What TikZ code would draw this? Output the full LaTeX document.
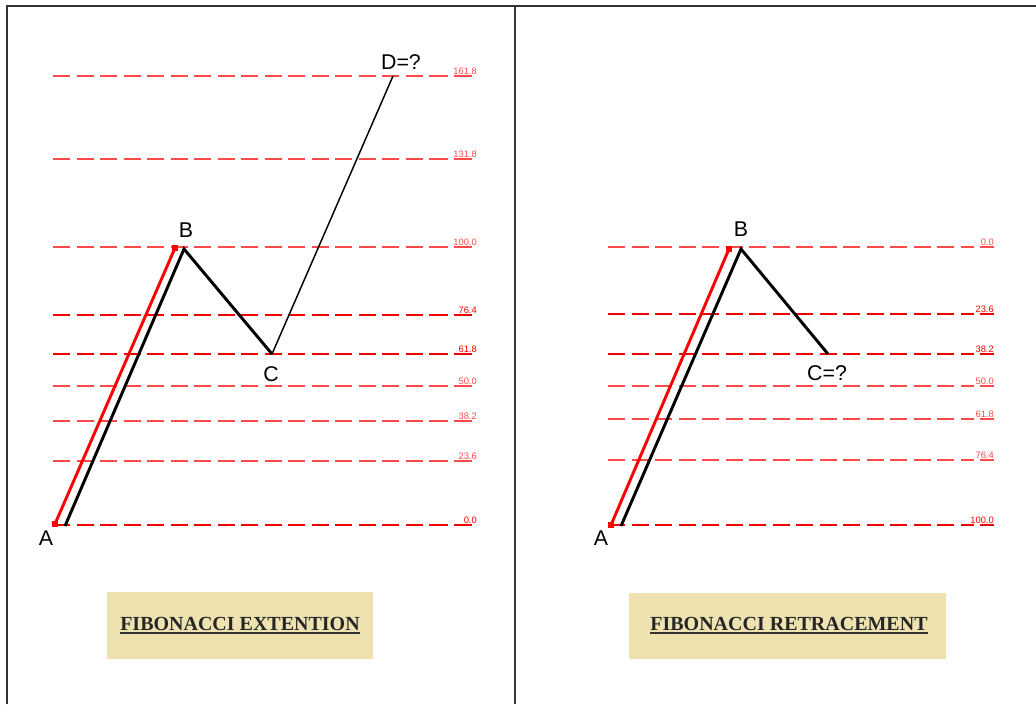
\documentclass[tikz,border=0pt]{standalone}
\usepackage{fontspec}
\setmainfont{Liberation Sans}
\newfontfamily\titlefont{Liberation Serif}
\usetikzlibrary{calc}
\definecolor{boxfill}{HTML}{EEE3B0}
\definecolor{lred}{HTML}{FF4A4A}
\definecolor{dred}{HTML}{F00000}
\definecolor{frame}{HTML}{333333}
\tikzset{
  lvl/.style={line width=1pt, dash pattern=on 12.75pt off 4.9pt},
  seg/.style={line width=1pt},
  lbl/.style={font=\fontsize{7pt}{8pt}\selectfont, inner sep=0pt},
  pt/.style={font=\fontsize{16pt}{18pt}\selectfont, inner sep=0pt},
  redleg/.style={red, line width=2.2pt},
  blackleg/.style={black, line width=2.2pt},
  thinleg/.style={black, line width=1.1pt},
  sq/.style={fill=red, minimum size=5pt, inner sep=0pt, draw=none},
  titlebox/.style={fill=boxfill, draw=none},
  ttl/.style={font=\titlefont\fontsize{15pt}{17pt}\selectfont\bfseries, inner sep=0pt, text=black!85},
  frm/.style={frame, line width=0.8pt}
}
\begin{document}
\begin{tikzpicture}[x=0.75pt,y=-0.75pt]
\useasboundingbox (0,0) rectangle (1036,704);
% frame
\draw[frm] (7,704) -- (7,6) -- (1036,6);
\draw[frm] (515,6) -- (515,704);

% ---------- left panel: extension levels ----------
\foreach \y/\t/\c in {76/161.8/lred, 159/131.8/lred, 247/100.0/lred, 315/76.4/dred, 354/61.8/dred, 386/50.0/lred, 421/38.2/lred, 461/23.6/lred, 525/0.0/dred} {
  \draw[lvl, \c] (53,\y) -- (423,\y);
  \draw[seg, \c] (429,\y) -- (448,\y);
  \draw[seg, \c] (454,\y) -- (472,\y);
  \node[lbl, text=\c, anchor=base east] at (477,\y-2) {\t};
}

% ---------- right panel: retracement levels ----------
\foreach \y/\t/\c in {247/0.0/lred, 314/23.6/dred, 354/38.2/dred, 386/50.0/lred, 419/61.8/lred, 460/76.4/lred, 525/100.0/dred} {
  \draw[lvl, \c] (608,\y) -- (974,\y);
  \draw[seg, \c] (980,\y) -- (994,\y);
  \node[lbl, text=\c, anchor=base east] at (994,\y-2) {\t};
}

% ---------- left panel: wave ----------
\coordinate (rA) at (55,524);
\coordinate (rB) at (175,248);
\coordinate (kA) at (65,526);
\coordinate (kB) at (184,249);
\coordinate (kC) at (272,354);
\coordinate (kD) at (393,76);
\draw[redleg] (rA) -- (rB);
\node[sq] at (rA) {};
\node[sq] at (rB) {};
\draw[blackleg, line join=miter] (kA) -- (kB) -- (kC);
\draw[thinleg] (kC) -- (kD);
\node[pt] (lA) at (46,538) {A};
\node[pt] (lB) at (186,230) {B};
\node[pt] (lC) at (271,374) {C};
\node[pt] (lD) at (401,62) {D=?};

% ---------- right panel: wave ----------
\coordinate (sA) at (611,525);
\coordinate (sB) at (729,249);
\coordinate (mA) at (621,526);
\coordinate (mB) at (741,249);
\coordinate (mC) at (828,354);
\draw[redleg] (sA) -- (sB);
\node[sq] at (sA) {};
\node[sq] at (sB) {};
\draw[blackleg, line join=miter] (mA) -- (mB) -- (mC);
\node[pt] (rlA) at (601,538) {A};
\node[pt] (rlB) at (741,229) {B};
\node[pt] (rlC) at (827,373) {C=?};

% ---------- title boxes ----------
\fill[titlebox] (107,592) rectangle (373,659);
\node[ttl, anchor=base] (t1) at (240,630) {FIBONACCI EXTENTION};
\draw[line width=1.1pt, black!80] ($(t1.base west)+(0,3)$) -- ($(t1.base east)+(0,3)$);

\fill[titlebox] (629,593) rectangle (946,659);
\node[ttl, anchor=base] (t2) at (789,630) {FIBONACCI RETRACEMENT};
\draw[line width=1.1pt, black!80] ($(t2.base west)+(0,3)$) -- ($(t2.base east)+(0,3)$);
\end{tikzpicture}
\end{document}
